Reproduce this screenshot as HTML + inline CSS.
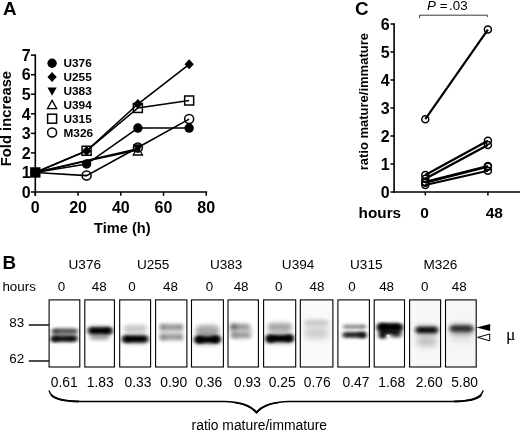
<!DOCTYPE html>
<html lang="en">
<head>
<meta charset="utf-8">
<title>Figure</title>
<style>
html,body{margin:0;padding:0;background:#fff;}
body{width:520px;height:437px;overflow:hidden;}
svg{display:block;opacity:0.999;}
text{font-family:"Liberation Sans",Arial,Helvetica,sans-serif;fill:#000;}
.b{font-weight:bold;}
.ser{font-family:"Liberation Serif","DejaVu Serif",serif;}
</style>
</head>
<body>
<svg width="520" height="437" viewBox="0 0 520 437">
<defs>
<filter id="bl0" x="-100%" y="-100%" width="300%" height="300%"><feGaussianBlur stdDeviation="0.7"/></filter>
<filter id="bl1" x="-50%" y="-200%" width="200%" height="500%"><feGaussianBlur stdDeviation="2.0 1.7"/></filter>
<filter id="bl2" x="-50%" y="-200%" width="200%" height="500%"><feGaussianBlur stdDeviation="2.2 2.0"/></filter>
<filter id="bl3" x="-50%" y="-200%" width="200%" height="500%"><feGaussianBlur stdDeviation="3 3.5"/></filter>
</defs>
<rect x="0" y="0" width="520" height="437" fill="#fff"/>

<g id="panelA">
<text class="b" x="2.9" y="14.6" font-size="18.8">A</text>
<path d="M35.3 54.40V195.8" stroke="#000" stroke-width="1.6" fill="none"/>
<path d="M34.5 192.0H207.16" stroke="#000" stroke-width="1.6" fill="none"/>
<path d="M30.9 192.00H35.3" stroke="#000" stroke-width="1.5"/>
<text class="b" x="30.699999999999996" y="197.70" font-size="16" text-anchor="end">0</text>
<path d="M30.9 172.45H35.3" stroke="#000" stroke-width="1.5"/>
<text class="b" x="30.699999999999996" y="178.15" font-size="16" text-anchor="end">1</text>
<path d="M30.9 152.90H35.3" stroke="#000" stroke-width="1.5"/>
<text class="b" x="30.699999999999996" y="158.60" font-size="16" text-anchor="end">2</text>
<path d="M30.9 133.35H35.3" stroke="#000" stroke-width="1.5"/>
<text class="b" x="30.699999999999996" y="139.05" font-size="16" text-anchor="end">3</text>
<path d="M30.9 113.80H35.3" stroke="#000" stroke-width="1.5"/>
<text class="b" x="30.699999999999996" y="119.50" font-size="16" text-anchor="end">4</text>
<path d="M30.9 94.25H35.3" stroke="#000" stroke-width="1.5"/>
<text class="b" x="30.699999999999996" y="99.95" font-size="16" text-anchor="end">5</text>
<path d="M30.9 74.70H35.3" stroke="#000" stroke-width="1.5"/>
<text class="b" x="30.699999999999996" y="80.40" font-size="16" text-anchor="end">6</text>
<path d="M30.9 55.15H35.3" stroke="#000" stroke-width="1.5"/>
<text class="b" x="30.699999999999996" y="60.85" font-size="16" text-anchor="end">7</text>
<path d="M35.30 192.0V195.8" stroke="#000" stroke-width="1.5"/>
<text class="b" x="35.30" y="213.00" font-size="16" text-anchor="middle">0</text>
<path d="M78.04 192.0V195.8" stroke="#000" stroke-width="1.5"/>
<text class="b" x="78.04" y="213.00" font-size="16" text-anchor="middle">20</text>
<path d="M120.78 192.0V195.8" stroke="#000" stroke-width="1.5"/>
<text class="b" x="120.78" y="213.00" font-size="16" text-anchor="middle">40</text>
<path d="M163.52 192.0V195.8" stroke="#000" stroke-width="1.5"/>
<text class="b" x="163.52" y="213.00" font-size="16" text-anchor="middle">60</text>
<path d="M206.26 192.0V195.8" stroke="#000" stroke-width="1.5"/>
<text class="b" x="206.26" y="213.00" font-size="16" text-anchor="middle">80</text>
<text class="b" x="122.3" y="233" font-size="14.6" text-anchor="middle">Time (h)</text>
<text class="b" transform="translate(11.4 118.6) rotate(-90)" font-size="14.8" text-anchor="middle">Fold increase</text>
<polyline points="35.30,172.45 86.59,164.04 137.88,128.07 189.16,128.07" fill="none" stroke="#000" stroke-width="1.6"/>
<polyline points="35.30,172.45 86.59,150.94 137.88,104.02 189.16,64.34" fill="none" stroke="#000" stroke-width="1.6"/>
<polyline points="35.30,172.45 86.59,160.52 137.88,148.79" fill="none" stroke="#000" stroke-width="1.6"/>
<polyline points="35.30,172.45 86.59,161.01 137.88,149.97" fill="none" stroke="#000" stroke-width="1.6"/>
<polyline points="35.30,172.45 86.59,150.75 137.88,107.94 189.16,100.51" fill="none" stroke="#000" stroke-width="1.6"/>
<polyline points="35.30,172.45 86.59,175.58 137.88,147.43 189.16,119.08" fill="none" stroke="#000" stroke-width="1.6"/>
<path d="M133.28 155.02H142.48L137.88 146.74Z" fill="#fff" stroke="#000" stroke-width="1.3"/>
<path d="M132.88 144.21H142.88L137.88 153.21Z" fill="#000"/>
<circle cx="86.59" cy="175.58" r="4.5" fill="none" stroke="#000" stroke-width="1.5"/>
<circle cx="189.16" cy="119.08" r="4.5" fill="none" stroke="#000" stroke-width="1.5"/>
<circle cx="86.59" cy="164.04" r="4.7" fill="#000"/>
<circle cx="137.88" cy="128.07" r="4.7" fill="#000"/>
<circle cx="189.16" cy="128.07" r="4.7" fill="#000"/>
<rect x="82.09" y="146.25" width="9.0" height="9.0" fill="none" stroke="#000" stroke-width="1.5"/>
<rect x="133.38" y="103.44" width="9.0" height="9.0" fill="none" stroke="#000" stroke-width="1.5"/>
<rect x="184.66" y="96.01" width="9.0" height="9.0" fill="none" stroke="#000" stroke-width="1.5"/>
<path d="M86.59 145.94L91.24 150.94L86.59 155.94L81.94 150.94Z" fill="#000"/>
<path d="M137.88 99.02L142.53 104.02L137.88 109.02L133.23 104.02Z" fill="#000"/>
<path d="M189.16 59.34L193.81 64.34L189.16 69.34L184.51 64.34Z" fill="#000"/>
<circle cx="137.88" cy="147.43" r="4.5" fill="none" stroke="#000" stroke-width="1.5"/>
<rect x="30.10" y="167.25" width="10.4" height="10.4" fill="#000"/>
<circle cx="52.10" cy="63.20" r="4.7" fill="#000"/>
<text class="b" x="63.5" y="67.30" font-size="11.8">U376</text>
<path d="M52.10 72.10L56.75 77.10L52.10 82.10L47.45 77.10Z" fill="#000"/>
<text class="b" x="63.5" y="81.20" font-size="11.8">U255</text>
<path d="M47.50 87.52H56.70L52.10 95.80Z" fill="#000"/>
<text class="b" x="63.5" y="95.30" font-size="11.8">U383</text>
<path d="M47.50 108.68H56.70L52.10 100.40Z" fill="#fff" stroke="#000" stroke-width="1.3"/>
<text class="b" x="63.5" y="109.10" font-size="11.8">U394</text>
<rect x="47.60" y="114.20" width="9.0" height="9.0" fill="none" stroke="#000" stroke-width="1.5"/>
<text class="b" x="63.5" y="122.80" font-size="11.8">U315</text>
<circle cx="52.10" cy="132.50" r="4.5" fill="none" stroke="#000" stroke-width="1.5"/>
<text class="b" x="63.5" y="136.60" font-size="11.8">M326</text>
</g>
<g id="panelC">
<text class="b" x="355" y="15.1" font-size="18.8">C</text>
<text x="427" y="10.1" font-size="13.4"><tspan font-style="italic">P</tspan> =<tspan dx="1.6">.03</tspan></text>
<path d="M419.6 18.2V15.2H487.4V17" fill="none" stroke="#222" stroke-width="0.9"/>
<path d="M394.1 23.25V192.8" stroke="#000" stroke-width="1.6" fill="none"/>
<path d="M393.3 192.0H520" stroke="#000" stroke-width="1.6" fill="none"/>
<path d="M390.5 192.00H394.1" stroke="#000" stroke-width="1.5"/>
<text class="b" x="389.70000000000005" y="197.70" font-size="16" text-anchor="end">0</text>
<path d="M390.5 164.00H394.1" stroke="#000" stroke-width="1.5"/>
<text class="b" x="389.70000000000005" y="169.70" font-size="16" text-anchor="end">1</text>
<path d="M390.5 136.00H394.1" stroke="#000" stroke-width="1.5"/>
<text class="b" x="389.70000000000005" y="141.70" font-size="16" text-anchor="end">2</text>
<path d="M390.5 108.00H394.1" stroke="#000" stroke-width="1.5"/>
<text class="b" x="389.70000000000005" y="113.70" font-size="16" text-anchor="end">3</text>
<path d="M390.5 80.00H394.1" stroke="#000" stroke-width="1.5"/>
<text class="b" x="389.70000000000005" y="85.70" font-size="16" text-anchor="end">4</text>
<path d="M390.5 52.00H394.1" stroke="#000" stroke-width="1.5"/>
<text class="b" x="389.70000000000005" y="57.70" font-size="16" text-anchor="end">5</text>
<path d="M390.5 24.00H394.1" stroke="#000" stroke-width="1.5"/>
<text class="b" x="389.70000000000005" y="29.70" font-size="16" text-anchor="end">6</text>
<path d="M425.3 192.0V195.4" stroke="#000" stroke-width="1.5"/>
<path d="M487.9 192.0V195.4" stroke="#000" stroke-width="1.5"/>
<text class="b" transform="translate(367.7 101.7) rotate(-90)" font-size="13" text-anchor="middle">ratio mature/immature</text>
<text class="b" x="358.6" y="218.3" font-size="15.3">hours</text>
<text class="b" x="424.6" y="218.3" font-size="15.5" text-anchor="middle">0</text>
<text class="b" x="494.3" y="218.3" font-size="15.5" text-anchor="middle">48</text>
<path d="M425.3 119.20L487.9 29.60" stroke="#000" stroke-width="2.2"/>
<path d="M425.3 174.92L487.9 140.76" stroke="#000" stroke-width="2.2"/>
<path d="M425.3 178.84L487.9 144.96" stroke="#000" stroke-width="2.2"/>
<path d="M425.3 181.92L487.9 165.96" stroke="#000" stroke-width="2.2"/>
<path d="M425.3 182.76L487.9 166.80" stroke="#000" stroke-width="2.2"/>
<path d="M425.3 185.00L487.9 170.72" stroke="#000" stroke-width="2.2"/>
<circle cx="425.3" cy="119.20" r="3.5" fill="none" stroke="#000" stroke-width="1.5"/>
<circle cx="487.9" cy="29.60" r="3.5" fill="none" stroke="#000" stroke-width="1.5"/>
<circle cx="425.3" cy="174.92" r="3.5" fill="none" stroke="#000" stroke-width="1.5"/>
<circle cx="487.9" cy="140.76" r="3.5" fill="none" stroke="#000" stroke-width="1.5"/>
<circle cx="425.3" cy="178.84" r="3.5" fill="none" stroke="#000" stroke-width="1.5"/>
<circle cx="487.9" cy="144.96" r="3.5" fill="none" stroke="#000" stroke-width="1.5"/>
<circle cx="425.3" cy="181.92" r="3.5" fill="none" stroke="#000" stroke-width="1.5"/>
<circle cx="487.9" cy="165.96" r="3.5" fill="none" stroke="#000" stroke-width="1.5"/>
<circle cx="425.3" cy="182.76" r="3.5" fill="none" stroke="#000" stroke-width="1.5"/>
<circle cx="487.9" cy="166.80" r="3.5" fill="none" stroke="#000" stroke-width="1.5"/>
<circle cx="425.3" cy="185.00" r="3.5" fill="none" stroke="#000" stroke-width="1.5"/>
<circle cx="487.9" cy="170.72" r="3.5" fill="none" stroke="#000" stroke-width="1.5"/>
</g>
<g id="panelB">
<text class="b" x="2.4" y="268.6" font-size="18.8">B</text>
<text x="84.8" y="268.8" font-size="13.6" text-anchor="middle">U376</text>
<text x="153.2" y="268.8" font-size="13.6" text-anchor="middle">U255</text>
<text x="226.2" y="268.8" font-size="13.6" text-anchor="middle">U383</text>
<text x="298.1" y="268.8" font-size="13.6" text-anchor="middle">U394</text>
<text x="366.3" y="268.8" font-size="13.6" text-anchor="middle">U315</text>
<text x="440.4" y="268.8" font-size="13.6" text-anchor="middle">M326</text>
<text x="2.4" y="290.6" font-size="13.4">hours</text>
<text x="61.6" y="290.6" font-size="13.4" text-anchor="middle">0</text>
<text x="99.2" y="290.6" font-size="13.4" text-anchor="middle">48</text>
<text x="131.9" y="290.6" font-size="13.4" text-anchor="middle">0</text>
<text x="170.5" y="290.6" font-size="13.4" text-anchor="middle">48</text>
<text x="209.5" y="290.6" font-size="13.4" text-anchor="middle">0</text>
<text x="241.1" y="290.6" font-size="13.4" text-anchor="middle">48</text>
<text x="278.7" y="290.6" font-size="13.4" text-anchor="middle">0</text>
<text x="316.9" y="290.6" font-size="13.4" text-anchor="middle">48</text>
<text x="352" y="290.6" font-size="13.4" text-anchor="middle">0</text>
<text x="386.6" y="290.6" font-size="13.4" text-anchor="middle">48</text>
<text x="424.7" y="290.6" font-size="13.4" text-anchor="middle">0</text>
<text x="459.3" y="290.6" font-size="13.4" text-anchor="middle">48</text>
<text x="9.3" y="327" font-size="13.4">83</text>
<text x="9.3" y="363.4" font-size="13.4">62</text>
<path d="M28.8 325H49" stroke="#000" stroke-width="1.4"/>
<path d="M28.8 361H49" stroke="#000" stroke-width="1.4"/>
<clipPath id="cl0"><rect x="49.1" y="299.9" width="30.7" height="67.1"/></clipPath>
<clipPath id="cl1"><rect x="84.8" y="299.9" width="29.6" height="67.1"/></clipPath>
<clipPath id="cl2"><rect x="119.7" y="299.9" width="30.9" height="67.1"/></clipPath>
<clipPath id="cl3"><rect x="155.6" y="299.9" width="31.3" height="67.1"/></clipPath>
<clipPath id="cl4"><rect x="191.5" y="299.9" width="31.9" height="67.1"/></clipPath>
<clipPath id="cl5"><rect x="228.0" y="299.9" width="30.4" height="67.1"/></clipPath>
<clipPath id="cl6"><rect x="263.6" y="299.9" width="32.1" height="67.1"/></clipPath>
<clipPath id="cl7"><rect x="300.3" y="299.9" width="32.6" height="67.1"/></clipPath>
<clipPath id="cl8"><rect x="337.9" y="299.9" width="31.5" height="67.1"/></clipPath>
<clipPath id="cl9"><rect x="374.2" y="299.9" width="30.3" height="67.1"/></clipPath>
<clipPath id="cl10"><rect x="409.6" y="299.9" width="31.0" height="67.1"/></clipPath>
<clipPath id="cl11"><rect x="445.5" y="299.9" width="30.7" height="67.1"/></clipPath>
<g clip-path="url(#cl0)">
<rect x="52.50" y="329.00" width="25" height="12" rx="6.00" fill="#000" opacity="0.3" filter="url(#bl2)"/>
<rect x="53.00" y="328.60" width="24" height="4.8" rx="2.40" fill="#000" opacity="0.55" filter="url(#bl1)"/>
<circle cx="54.6" cy="331.3" r="2.6" fill="#000" opacity="0.55" filter="url(#bl1)"/>
<circle cx="76" cy="331" r="2.2" fill="#000" opacity="0.3" filter="url(#bl1)"/>
<rect x="52.50" y="335.80" width="25" height="6.0" rx="3.00" fill="#000" opacity="0.9" filter="url(#bl1)"/>
<circle cx="54.2" cy="339" r="3.3" fill="#000" opacity="0.85" filter="url(#bl1)"/>
<circle cx="71" cy="338.8" r="2.6" fill="#000" opacity="0.35" filter="url(#bl1)"/>
</g>
<rect x="49.1" y="299.9" width="30.7" height="67.1" fill="none" stroke="#000" stroke-width="1.1"/>
<g clip-path="url(#cl1)">
<rect x="87.50" y="326.00" width="25" height="10" rx="5.00" fill="#000" opacity="0.25" filter="url(#bl2)"/>
<rect x="88.75" y="327.20" width="22.5" height="6.8" rx="3.40" fill="#000" opacity="1" filter="url(#bl1)"/>
<circle cx="108.6" cy="330.8" r="3.3" fill="#000" opacity="0.7" filter="url(#bl1)"/>
<circle cx="91.5" cy="330.4" r="2.8" fill="#000" opacity="0.4" filter="url(#bl1)"/>
<rect x="90.00" y="334.75" width="19" height="4.5" rx="2.25" fill="#000" opacity="0.44" filter="url(#bl2)"/>
</g>
<rect x="84.8" y="299.9" width="29.6" height="67.1" fill="none" stroke="#000" stroke-width="1.1"/>
<g clip-path="url(#cl2)">
<rect x="123.80" y="325.15" width="23" height="6.5" rx="3.25" fill="#000" opacity="0.24" filter="url(#bl2)"/>
<rect x="121.80" y="333.50" width="27" height="11" rx="5.50" fill="#000" opacity="0.2" filter="url(#bl2)"/>
<rect x="122.55" y="335.40" width="25.5" height="7.2" rx="3.60" fill="#000" opacity="1" filter="url(#bl1)"/>
<circle cx="126.6" cy="339.3" r="3.1" fill="#000" opacity="0.6" filter="url(#bl1)"/>
</g>
<rect x="119.7" y="299.9" width="30.9" height="67.1" fill="none" stroke="#000" stroke-width="1.1"/>
<g clip-path="url(#cl3)">
<rect x="159.50" y="325.50" width="24" height="13" rx="6.50" fill="#000" opacity="0.13" filter="url(#bl2)"/>
<rect x="160.00" y="324.70" width="23" height="4.2" rx="2.10" fill="#000" opacity="0.45" filter="url(#bl2)"/>
<circle cx="162.2" cy="326.8" r="2.6" fill="#000" opacity="0.3" filter="url(#bl2)"/>
<circle cx="180.5" cy="327" r="2.4" fill="#000" opacity="0.25" filter="url(#bl2)"/>
<rect x="160.00" y="335.20" width="23" height="4.4" rx="2.20" fill="#000" opacity="0.45" filter="url(#bl2)"/>
<circle cx="162.2" cy="337.4" r="2.6" fill="#000" opacity="0.3" filter="url(#bl2)"/>
<circle cx="180.5" cy="337.6" r="2.4" fill="#000" opacity="0.25" filter="url(#bl2)"/>
</g>
<rect x="155.6" y="299.9" width="31.3" height="67.1" fill="none" stroke="#000" stroke-width="1.1"/>
<g clip-path="url(#cl4)">
<rect x="195.50" y="325.00" width="24" height="11" rx="5.50" fill="#000" opacity="0.33" filter="url(#bl2)"/>
<rect x="193.50" y="333.50" width="28" height="12" rx="6.00" fill="#000" opacity="0.22" filter="url(#bl2)"/>
<rect x="195.50" y="336.30" width="24" height="6.6" rx="3.30" fill="#000" opacity="1" filter="url(#bl1)"/>
<circle cx="199.4" cy="339.8" r="3.8" fill="#000" opacity="1" filter="url(#bl1)"/>
<circle cx="215.8" cy="339.2" r="3.7" fill="#000" opacity="1" filter="url(#bl1)"/>
</g>
<rect x="191.5" y="299.9" width="31.9" height="67.1" fill="none" stroke="#000" stroke-width="1.1"/>
<g clip-path="url(#cl5)">
<rect x="229.50" y="324.50" width="23" height="13" rx="6.50" fill="#000" opacity="0.14" filter="url(#bl2)"/>
<rect x="230.00" y="324.50" width="20" height="4.6" rx="2.30" fill="#000" opacity="0.42" filter="url(#bl2)"/>
<circle cx="233.6" cy="326.8" r="3" fill="#000" opacity="0.42" filter="url(#bl2)"/>
<rect x="231.00" y="332.70" width="20" height="5.4" rx="2.70" fill="#000" opacity="0.36" filter="url(#bl2)"/>
<circle cx="234" cy="335.4" r="2.6" fill="#000" opacity="0.2" filter="url(#bl2)"/>
</g>
<rect x="228.0" y="299.9" width="30.4" height="67.1" fill="none" stroke="#000" stroke-width="1.1"/>
<g clip-path="url(#cl6)">
<rect x="267.20" y="322.50" width="25" height="10" rx="5.00" fill="#000" opacity="0.27" filter="url(#bl2)"/>
<rect x="267.70" y="325.00" width="24" height="3.6" rx="1.80" fill="#000" opacity="0.16" filter="url(#bl2)"/>
<rect x="265.20" y="332.50" width="29" height="12" rx="6.00" fill="#000" opacity="0.22" filter="url(#bl2)"/>
<rect x="267.70" y="335.00" width="24" height="7" rx="3.50" fill="#000" opacity="1" filter="url(#bl1)"/>
<circle cx="270" cy="338.8" r="3.9" fill="#000" opacity="1" filter="url(#bl1)"/>
<circle cx="289.6" cy="338.3" r="3.8" fill="#000" opacity="1" filter="url(#bl1)"/>
</g>
<rect x="263.6" y="299.9" width="32.1" height="67.1" fill="none" stroke="#000" stroke-width="1.1"/>
<rect x="300.3" y="299.9" width="32.6" height="67.1" fill="#fafafa"/>
<g clip-path="url(#cl7)">
<rect x="304.00" y="320.50" width="25" height="4.6" rx="2.30" fill="#000" opacity="0.2" filter="url(#bl2)"/>
<rect x="304.00" y="329.00" width="25" height="10" rx="5.00" fill="#000" opacity="0.15" filter="url(#bl3)"/>
<rect x="303.50" y="320.00" width="26" height="16" rx="8.00" fill="#000" opacity="0.06" filter="url(#bl3)"/>
</g>
<rect x="300.3" y="299.9" width="32.6" height="67.1" fill="none" stroke="#000" stroke-width="1.1"/>
<g clip-path="url(#cl8)">
<rect x="343.50" y="324.50" width="22" height="4.6" rx="2.30" fill="#000" opacity="0.42" filter="url(#bl1)"/>
<circle cx="345" cy="326.8" r="1.8" fill="#000" opacity="0.2" filter="url(#bl1)"/>
<circle cx="363.6" cy="326.6" r="2" fill="#000" opacity="0.3" filter="url(#bl1)"/>
<rect x="343.05" y="332.00" width="22.5" height="5.8" rx="2.90" fill="#000" opacity="0.85" filter="url(#bl1)"/>
<circle cx="362.8" cy="335.2" r="3.1" fill="#000" opacity="0.85" filter="url(#bl1)"/>
<circle cx="345" cy="334.8" r="2" fill="#000" opacity="0.3" filter="url(#bl1)"/>
</g>
<rect x="337.9" y="299.9" width="31.5" height="67.1" fill="none" stroke="#000" stroke-width="1.1"/>
<g clip-path="url(#cl9)">
<rect x="378.20" y="322.90" width="24" height="8.6" rx="4.30" fill="#000" opacity="1" filter="url(#bl1)"/>
<circle cx="381.3" cy="327.2" r="4.0" fill="#000" opacity="0.9" filter="url(#bl1)"/>
<circle cx="399.5" cy="327.6" r="3.4" fill="#000" opacity="0.6" filter="url(#bl1)"/>
<rect x="379.10" y="331.40" width="7" height="7.6" rx="3.80" fill="#000" opacity="1" filter="url(#bl1)"/>
<rect x="390.50" y="332.00" width="11" height="5.6" rx="2.80" fill="#000" opacity="0.66" filter="url(#bl1)"/>
<rect x="379.50" y="330.00" width="21" height="4" rx="2.00" fill="#000" opacity="1" filter="url(#bl1)"/>
<circle cx="388.3" cy="336" r="1.3" fill="#fff" opacity="0.9" filter="url(#bl0)"/>
</g>
<rect x="374.2" y="299.9" width="30.3" height="67.1" fill="none" stroke="#000" stroke-width="1.1"/>
<rect x="409.6" y="299.9" width="31.0" height="67.1" fill="#f8f8f8"/>
<g clip-path="url(#cl10)">
<rect x="414.80" y="325.00" width="24" height="10" rx="5.00" fill="#000" opacity="0.32" filter="url(#bl2)"/>
<rect x="416.55" y="327.00" width="20.5" height="6.0" rx="3.00" fill="#000" opacity="0.9" filter="url(#bl1)"/>
<circle cx="418.6" cy="330" r="2.6" fill="#000" opacity="0.3" filter="url(#bl1)"/>
<circle cx="435" cy="330.2" r="2.6" fill="#000" opacity="0.3" filter="url(#bl1)"/>
<rect x="416.30" y="336.00" width="21" height="10" rx="5.00" fill="#000" opacity="0.24" filter="url(#bl3)"/>
</g>
<rect x="409.6" y="299.9" width="31.0" height="67.1" fill="none" stroke="#000" stroke-width="1.1"/>
<rect x="445.5" y="299.9" width="30.7" height="67.1" fill="#f6f6f6"/>
<g clip-path="url(#cl11)">
<rect x="450.25" y="325.60" width="22.5" height="6.0" rx="3.00" fill="#000" opacity="0.68" filter="url(#bl1)"/>
<rect x="449.00" y="323.75" width="25" height="10.5" rx="5.25" fill="#000" opacity="0.36" filter="url(#bl2)"/>
<rect x="449.50" y="331.00" width="24" height="10" rx="5.00" fill="#000" opacity="0.1" filter="url(#bl3)"/>
</g>
<rect x="445.5" y="299.9" width="30.7" height="67.1" fill="none" stroke="#000" stroke-width="1.1"/>
<text x="64.3" y="386.7" font-size="13.8" text-anchor="middle">0.61</text>
<text x="100.3" y="386.7" font-size="13.8" text-anchor="middle">1.83</text>
<text x="138" y="386.7" font-size="13.8" text-anchor="middle">0.33</text>
<text x="173.7" y="386.7" font-size="13.8" text-anchor="middle">0.90</text>
<text x="208.8" y="386.7" font-size="13.8" text-anchor="middle">0.36</text>
<text x="247.4" y="386.7" font-size="13.8" text-anchor="middle">0.93</text>
<text x="282.3" y="386.7" font-size="13.8" text-anchor="middle">0.25</text>
<text x="317.2" y="386.7" font-size="13.8" text-anchor="middle">0.76</text>
<text x="356" y="386.7" font-size="13.8" text-anchor="middle">0.47</text>
<text x="391.8" y="386.7" font-size="13.8" text-anchor="middle">1.68</text>
<text x="429.2" y="386.7" font-size="13.8" text-anchor="middle">2.60</text>
<text x="464.6" y="386.7" font-size="13.8" text-anchor="middle">5.80</text>
<path d="M49.2 391C51 398 62 401.5 82 401.5H224C238 401.8 250 404.5 256.5 413C263 404.5 275 401.8 289 401.5H451C470 401.5 481 398 483 391" fill="none" stroke="#000" stroke-width="1.35" stroke-linecap="round" stroke-linejoin="miter"/>
<path d="M51.6 395.6C56 399.5 64 401.2 78 401.45M236 402.6C246 404.2 252 407.2 255.8 411.6M257.2 411.6C261 407.2 267 404.2 277 402.6M455 401.45C468 401.2 477 399.5 480.8 395.6" fill="none" stroke="#000" stroke-width="1.9" stroke-linecap="round"/>
<text x="259.3" y="430.2" font-size="13.85" text-anchor="middle">ratio mature/immature</text>
<path d="M490.2 324V331L476.4 327.5Z" fill="#000"/>
<path d="M489.7 334V340.8L477.6 337.4Z" fill="#fff" stroke="#000" stroke-width="1"/>
<text class="ser" x="506" y="340.1" font-size="17.6">μ</text>
</g>
</svg>
</body>
</html>
